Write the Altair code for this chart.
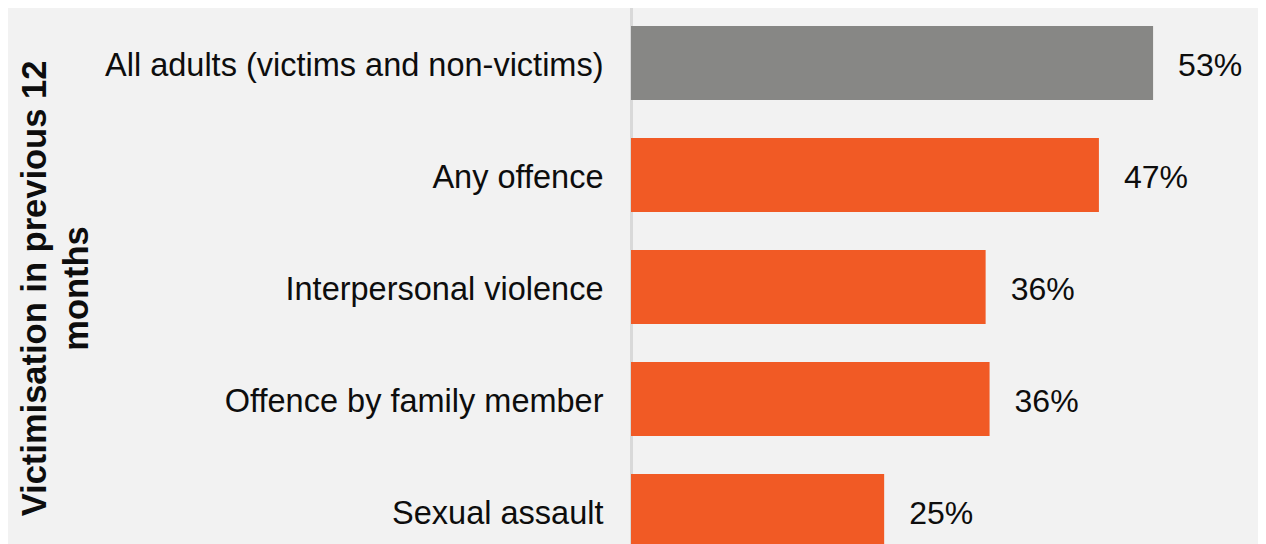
import altair as alt
import pandas as pd

categories = [
    "All adults (victims and non-victims)",
    "Any offence",
    "Interpersonal violence",
    "Offence by family member",
    "Sexual assault",
]
values = [53.0, 47.5, 36.0, 36.4, 25.7]
labels = ["53%", "47%", "36%", "36%", "25%"]
groups = ["all", "victim", "victim", "victim", "victim"]

df = pd.DataFrame({"category": categories, "value": values, "label": labels, "group": groups})

FONT = "Liberation Sans"

y_enc = alt.Y(
    "category:N",
    sort=categories,
    scale=alt.Scale(range=[-1, 559], paddingInner=0.34, paddingOuter=0.17),
    axis=alt.Axis(
        title=["Victimisation in previous 12", "months"],
        titleFont=FONT,
        titleFontSize=34.5,
        titleFontWeight="bold",
        titleColor="#0d0d0d",
        titleAngle=270,
        titleAlign="center",
        titleBaseline="alphabetic",
        titleLineHeight=42,
        titleX=-586,
        titleY=280,
        labelFont=FONT,
        labelFontSize=32.5,
        labelColor="#0d0d0d",
        labelPadding=28,
        labelOffset=3,
        labelLimit=0,
        ticks=False,
        domainColor="#d9d9d9",
        domainWidth=3,
        grid=False,
    ),
)

x_enc = alt.X("value:Q", scale=alt.Scale(domain=[0, 63.65]), axis=None)

bars = alt.Chart(df).mark_bar(clip=True).encode(
    x=x_enc,
    y=y_enc,
    color=alt.Color(
        "group:N",
        scale=alt.Scale(domain=["all", "victim"], range=["#878785", "#f15a25"]),
        legend=None,
    ),
)

text = alt.Chart(df).mark_text(
    align="left", baseline="middle", dx=25, dy=3, font=FONT, fontSize=32, color="#0d0d0d"
).encode(x=x_enc, y=alt.Y("category:N", sort=categories), text="label:N")

chart = (
    alt.layer(bars, text)
    .properties(
        width=627,
        height=536,
        padding={"left": 623, "top": 0, "right": 0, "bottom": 0},
        autosize=alt.AutoSizeParams(type="none"),
        background="#f2f2f2",
    )
    .configure_view(stroke=None)
)

chart.save("out.html", embed_options={"renderer": "svg", "actions": False})
